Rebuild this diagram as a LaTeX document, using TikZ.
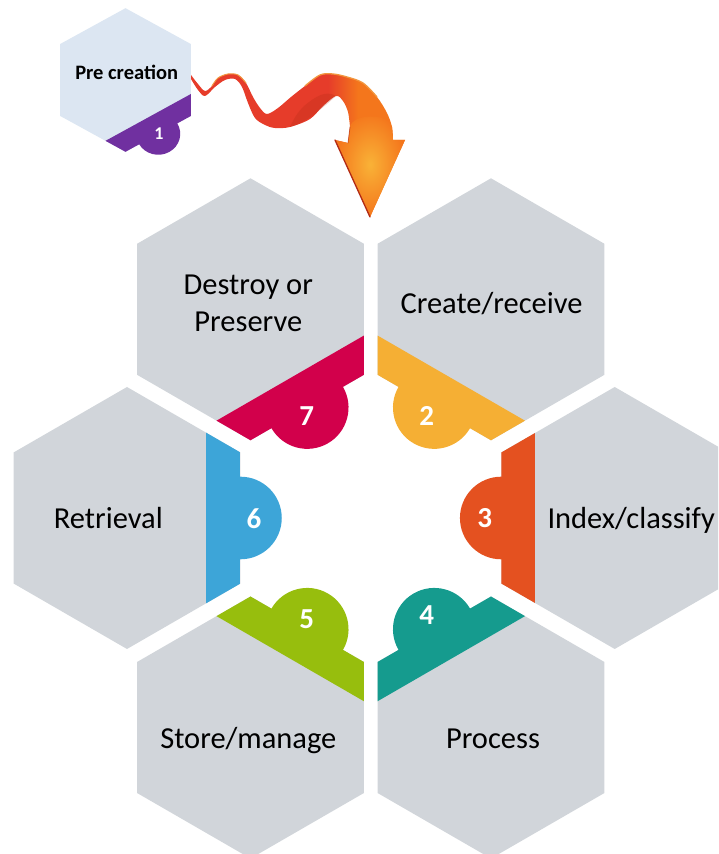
\documentclass[tikz,border=0pt]{standalone}
\usepackage{fontspec}
\setmainfont{Carlito}
\definecolor{hexgray}{RGB}{209,213,218}
\definecolor{prefill}{RGB}{220,230,242}
\definecolor{cone}{RGB}{112,48,160}
\definecolor{ctwo}{RGB}{245,175,52}
\definecolor{cthree}{RGB}{228,81,32}
\definecolor{cfour}{RGB}{21,155,142}
\definecolor{cfive}{RGB}{151,190,13}
\definecolor{csix}{RGB}{61,165,216}
\definecolor{cseven}{RGB}{210,0,75}
\definecolor{arrRed}{RGB}{230,60,42}
\definecolor{arrOrange}{RGB}{244,118,28}
\definecolor{arrYellow}{RGB}{249,178,55}
\definecolor{arrDark}{RGB}{178,42,20}
\definecolor{arrEdge}{RGB}{242,150,62}
\pgfdeclarehorizontalshading{ribbonshade}{100bp}{color(0bp)=(arrRed); color(57bp)=(arrRed); color(64bp)=(arrOrange); color(100bp)=(arrOrange)}
\pgfmathsetmacro\R{131}
\pgfmathsetmacro\W{131*cos(30)}
\pgfmathsetmacro\T{34}
\pgfmathsetmacro\rb{41.3}
\pgfmathsetmacro\Rs{75.6}
\pgfmathsetmacro\Ws{75.6*cos(30)}
\pgfmathsetmacro\Ts{20}
\pgfmathsetmacro\rs{22}
\newcommand\hexbig{(30:\R) -- (90:\R) -- (150:\R) -- (210:\R) -- (270:\R) -- (330:\R) -- cycle}
\newcommand\hexsmall{(30:\Rs) -- (90:\Rs) -- (150:\Rs) -- (210:\Rs) -- (270:\Rs) -- (330:\Rs) -- cycle}
% #1 center, #2 rotation, #3 colour
\newcommand\stagehex[3]{%
  \begin{scope}[shift={#1}, rotate=#2]
    \fill[hexgray] \hexbig;
    \begin{scope}
      \clip \hexbig;
      \fill[#3] (\W-\T,-\R) rectangle (\W+1,\R);
    \end{scope}
    \fill[#3] (\W-\T/2,-\rb) -- (\W,-\rb) arc[start angle=-90,end angle=90,radius=\rb] -- (\W-\T/2,\rb) -- cycle;
  \end{scope}}
\tikzset{
  lbl/.style={inner sep=0pt, font=\fontsize{30.5}{36.7}\selectfont, text=black},
  numlbl/.style={inner sep=0pt, font=\bfseries\fontsize{29}{29}\selectfont, text=white},
}
\begin{document}
\begin{tikzpicture}[x=1pt,y=1pt]
\useasboundingbox (0,0) rectangle (718,854);
\clip (0,0) rectangle (718,854);

% six stage hexagons
\stagehex{(250.5,544.7)}{-60}{cseven}
\stagehex{(491,544.7)}{-120}{ctwo}
\stagehex{(614.7,336)}{180}{cthree}
\stagehex{(491,126.5)}{120}{cfour}
\stagehex{(250.5,126.5)}{60}{cfive}
\stagehex{(127,336)}{0}{csix}

% pre creation hexagon
\begin{scope}[shift={(125.5,774)}, yscale=0.95]
  \begin{scope}[rotate=-60]
    \fill[prefill] \hexsmall;
    \begin{scope}
      \clip \hexsmall;
      \fill[cone] (\Ws-\Ts,-\Rs) rectangle (\Ws+1,\Rs);
    \end{scope}
    \fill[cone] (\Ws-\Ts/2,-\rs) -- (\Ws,-\rs) arc[start angle=-90,end angle=90,radius=\rs] -- (\Ws-\Ts/2,\rs) -- cycle;
  \end{scope}
\end{scope}

% ribbon arrow (y = 854 - pixel row)
\shade[shading=ribbonshade]
  (191,779) -- plot[smooth, tension=0.55] coordinates {(191,779) (198,770) (205,763) (212,768) (218,776) (228,780) (238,779) (246,771) (253,757) (260,746) (267,740) (278,746) (291,757) (305,768) (320,779) (333,780) (347,777) (363,771) (377,757) (387,741) (392,727) (393,714)}
  -- (405,714) -- (370,637) -- (335,714) -- (348,711)
  -- plot[smooth, tension=0.55] coordinates {(350,727) (348,742) (343,753) (336,758) (323,748) (310,735) (290,727) (275,726) (265,729) (255,736) (248,751) (242,767) (235,775) (225,774) (215,767) (205,758) (198,764) (191,775)}
  -- cycle;
% darker inner face along the climbing part
\fill[arrDark, opacity=0.25]
  (290,727) .. controls (305,731) and (318,742) .. (336,758)
  .. controls (326,764) and (316,758) .. (304,748)
  .. controls (298,742) and (294,736) .. (290,727) -- cycle;
% arrow head glow
\shade[inner color=arrYellow, outer color=arrOrange]
  (393,714) -- (405,714) -- (370,637) -- (335,714) -- (348,711) -- (350,727)
  .. controls (352,740) and (388,742) .. (392,727) -- cycle;
\draw[arrDark, line width=1.3pt, line cap=round] (335,714) -- (370,637);
\draw[arrDark, line width=0.8pt, opacity=0.6, line cap=round] (348,711) -- (350,727);
\draw[arrEdge, line width=1pt, line cap=round]
  plot[smooth, tension=0.55] coordinates {(212,768) (218,776) (228,780) (238,779) (246,771)};
\draw[arrEdge, line width=1.3pt, line cap=round]
  plot[smooth, tension=0.55] coordinates {(305,768) (320,779) (333,780) (347,777) (363,771) (377,757)};

% texts
\node[lbl, font=\bfseries\fontsize{20.5}{24}\selectfont, anchor=base] (tpre) at (126.7,774) {Pre creation};
\node[lbl, anchor=base, align=center] (tseven) at (248.3,522.3) {Destroy or\\Preserve};
\node[lbl, anchor=base] (ttwo) at (491.5,540.7) {Create/receive};
\node[lbl, anchor=base west] (tthree) at (547.3,325) {Index/classify};
\node[lbl, anchor=base] (tfour) at (493,105.7) {Process};
\node[lbl, anchor=base] (tfive) at (248.3,105.7) {Store/manage};
\node[lbl, anchor=base] (tsix) at (108.3,325.7) {Retrieval};

% numbers
\node[numlbl, font=\bfseries\fontsize{18}{18}\selectfont] (n1) at (159,720.7) {1};
\node[numlbl] (n2) at (426.7,438) {2};
\node[numlbl] (n3) at (484.7,335.7) {3};
\node[numlbl] (n4) at (426.7,239) {4};
\node[numlbl] (n5) at (306.7,234.5) {5};
\node[numlbl] (n6) at (254,335.7) {6};
\node[numlbl] (n7) at (306.7,438) {7};
\end{tikzpicture}
\end{document}
